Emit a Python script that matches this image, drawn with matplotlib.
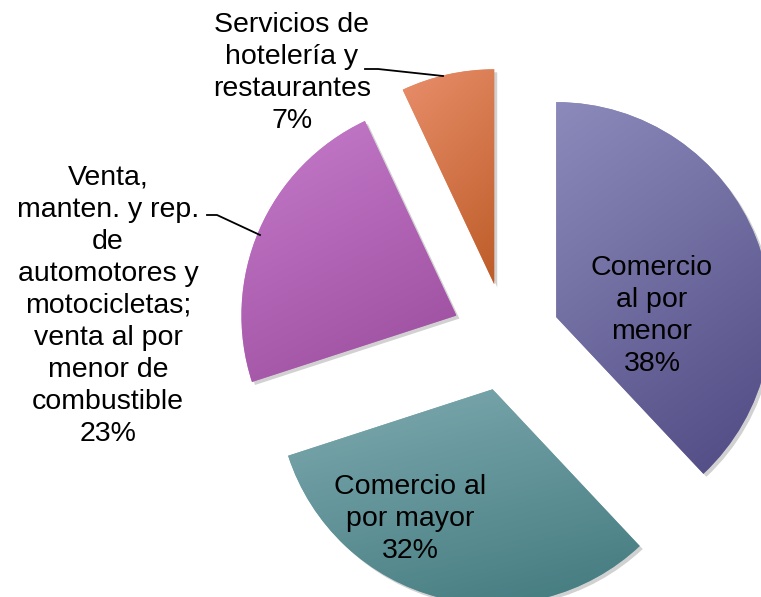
import numpy as np
import matplotlib
matplotlib.use("Agg")
import matplotlib.pyplot as plt
from matplotlib.patches import Wedge
from matplotlib.colors import LinearSegmentedColormap

plt.rcParams['font.family'] = ['Liberation Sans', 'DejaVu Sans']

categories = ['Comercio\nal por\nmenor',
              'Comercio al\npor mayor',
              'Venta,\nmanten. y rep.\nde\nautomotores y\nmotocicletas;\nventa al por\nmenor de\ncombustible',
              'Servicios de\nhotelería y\nrestaurantes']
values = [38, 32, 23, 7]
light = ['#8c8abb', '#7eaab0', '#c67bcb', '#e88e6a']
dark = ['#4f4a82', '#427a7e', '#9a4b9c', '#bd5c28']

W, H = 761, 597
fig = plt.figure(figsize=(W / 100, H / 100), dpi=100)
ax = fig.add_axes([0, 0, 1, 1])

center = (506, 260)
radius = 215
# explode is in data units (pixels here)
wedges, _ = ax.pie(values, colors=light, startangle=90, counterclock=False,
                   explode=[54] * len(values), radius=radius, center=center,
                   wedgeprops=dict(linewidth=0))
ax.set_aspect('equal')
ax.axis('off')

# gradient fill (light top-left -> dark bottom-right), plus soft shadow
yy, xx = np.mgrid[0:1:200j, 0:1:200j]
grad = 0.3 * xx + 0.7 * yy
for w, c0, c1 in zip(wedges, light, dark):
    bb = w.get_path().transformed(w.get_patch_transform()).get_extents()
    sh = Wedge((w.center[0] + 3, w.center[1] - 3), w.r, w.theta1, w.theta2,
               color='black', alpha=0.18, linewidth=0, zorder=0.5)
    ax.add_patch(sh)
    cm = LinearSegmentedColormap.from_list('g', [c0, c1])
    im = ax.imshow(grad, cmap=cm, extent=[bb.x0, bb.x1, bb.y0, bb.y1],
                   origin='upper', aspect='auto', zorder=1)
    im.set_clip_path(w)
ax.set_xlim(0, W)
ax.set_ylim(0, H)

fs = 20.5
ls = 1.3
labels = [f'{c}\n{v}%' for c, v in zip(categories, values)]
ax.text(652, H - 316, labels[0], ha='center', va='center', fontsize=fs,
        linespacing=ls, zorder=3)
ax.text(410, H - 519, labels[1], ha='center', va='center', fontsize=fs,
        linespacing=ls, zorder=3)
ax.text(108, H - 306, labels[2], ha='center', va='center', fontsize=fs,
        linespacing=ls, zorder=3)
ax.text(292, H - 73, labels[3], ha='center', va='center', fontsize=fs,
        linespacing=ls, zorder=3)

# leader lines
ax.plot([207, 217, 260], [H - 215, H - 215, H - 235], color='black', lw=1.3, zorder=3)
ax.plot([365, 378, 443], [H - 69, H - 69, H - 76], color='black', lw=1.3, zorder=3)

fig.savefig('out.png', dpi=100)
